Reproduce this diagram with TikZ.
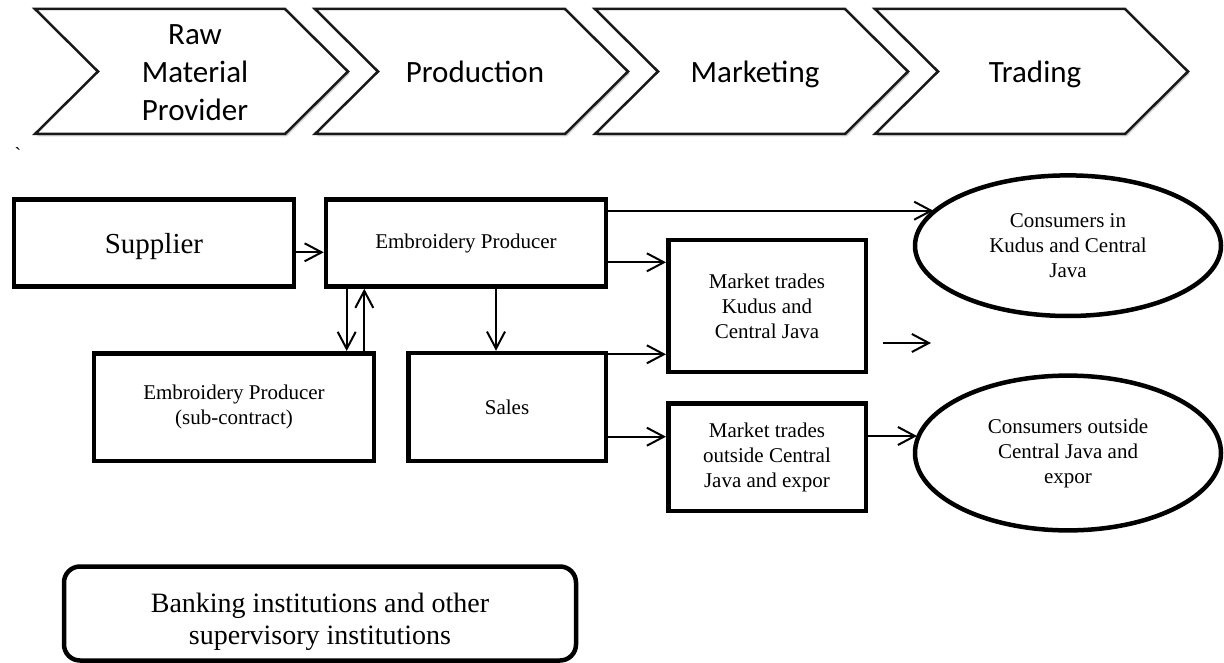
\documentclass[tikz,border=0pt]{standalone}
\usepackage{fontspec}
\setmainfont{Liberation Serif}
\newfontfamily\calfont{Carlito}
\usetikzlibrary{arrows.meta,shapes.geometric,shadows,calc}
\begin{document}
\begin{tikzpicture}[x=1pt,y=-1pt,
  chev/.style={draw=black!90, line width=2.5pt, fill=white, line join=miter,
    drop shadow={shadow xshift=1.5pt, shadow yshift=-2.5pt, opacity=0.3, fill=black!60}},
  chevtext/.style={font=\calfont\fontsize{31}{38}\selectfont, align=center},
  box/.style={draw, line width=4.5pt, align=center, inner sep=0pt, font=\fontsize{21}{25}\selectfont},
  ell/.style={draw, ellipse, line width=4.5pt, inner sep=0pt, align=center, font=\fontsize{21}{25}\selectfont},
  arr/.style={line width=2pt, -{Straight Barb[length=17pt,width=18pt]}},
]
\useasboundingbox (0,0) rectangle (1224,663);

% chevrons
\foreach \i in {0,1,2,3} {
  \pgfmathsetmacro\L{35+280*\i}
  \path[chev] (\L,9) -- ++(250,0) -- ++(63,62.5) -- ++(-63,62.5) -- ++(-250,0) -- ++(63,-62.5) -- cycle;
}
\node[chevtext] (c0) at (195,72.5) {Raw\\Material\\Provider};
\node[chevtext, text depth=0pt] (c1) at (475,71.5) {Production};
\node[chevtext, text depth=0pt] (c2) at (755,71.5) {Marketing};
\node[chevtext, text depth=0pt] (c3) at (1035,71.5) {Trading};

\node[inner sep=0pt] (tick) at (18,155) {\fontsize{20}{20}\selectfont\textasciigrave};

% boxes
\node[box, minimum width=280pt, minimum height=87pt, text depth=0pt, font=\fontsize{29}{32}\selectfont] (sup) at (154,243) {Supplier};
\node[box, minimum width=280pt, minimum height=87pt] (ep) at (466,243) {Embroidery Producer};
\node[box, minimum width=280pt, minimum height=107.5pt] (sub) at (234,407) {Embroidery Producer\\(sub-contract)};
\node[box, minimum width=197.5pt, minimum height=108pt] (sales) at (507,407) {Sales};
\node[box, minimum width=197.5pt, minimum height=132pt] (mt1) at (767,306) {Market trades\\Kudus and\\Central Java};
\node[box, minimum width=197.5pt, minimum height=107.5pt] (mt2) at (767,457) {Market trades\\outside Central\\Java and expor};
\node[ell, minimum width=306pt, minimum height=140.6pt] (e1) at (1068,245.7) {Consumers in\\Kudus and Central\\Java};
\node[ell, minimum width=306pt, minimum height=154.8pt] (e2) at (1068,453) {Consumers outside\\Central Java and\\expor};
\node[box, rounded corners=16pt, minimum width=512pt, minimum height=94pt, font=\fontsize{28}{32}\selectfont] (bank) at (320,613.5)
  {\raisebox{-14.5pt}[0pt][0pt]{\begin{tabular}{@{}c@{}}Banking institutions and other\\supervisory institutions\end{tabular}}};

% connectors
\draw[arr] ([yshift=-9.3pt]sup.east) -- ([yshift=-9.3pt]ep.west);
\draw[arr] ([xshift=-119.3pt]ep.south) -- ([xshift=112.7pt]sub.north);
\draw[arr] ([xshift=130.3pt]sub.north) -- ([xshift=-101.7pt]ep.south);
\draw[arr] ([xshift=30pt]ep.south) -- ([xshift=-11pt]sales.north);
\draw[arr] ([yshift=32.3pt]ep.east) coordinate (t1) -- (t1 -| e1.165.6);
\draw[arr] ([yshift=-19.3pt]ep.east) coordinate (t2) -- (t2 -| mt1.west);
\draw[arr] ([yshift=52.7pt]sales.east) coordinate (t3) -- (t3 -| mt1.west);
\draw[arr] ([yshift=-29.7pt]sales.east) coordinate (t4) -- (t4 -| mt2.west);
\draw[arr] ([yshift=21pt]mt2.east) coordinate (t5) -- (t5 -| e2.173.6);
\coordinate (f1) at (883,343);
\coordinate (f2) at (931,343);
\draw[arr] (f1) -- (f2);
\end{tikzpicture}
\end{document}
